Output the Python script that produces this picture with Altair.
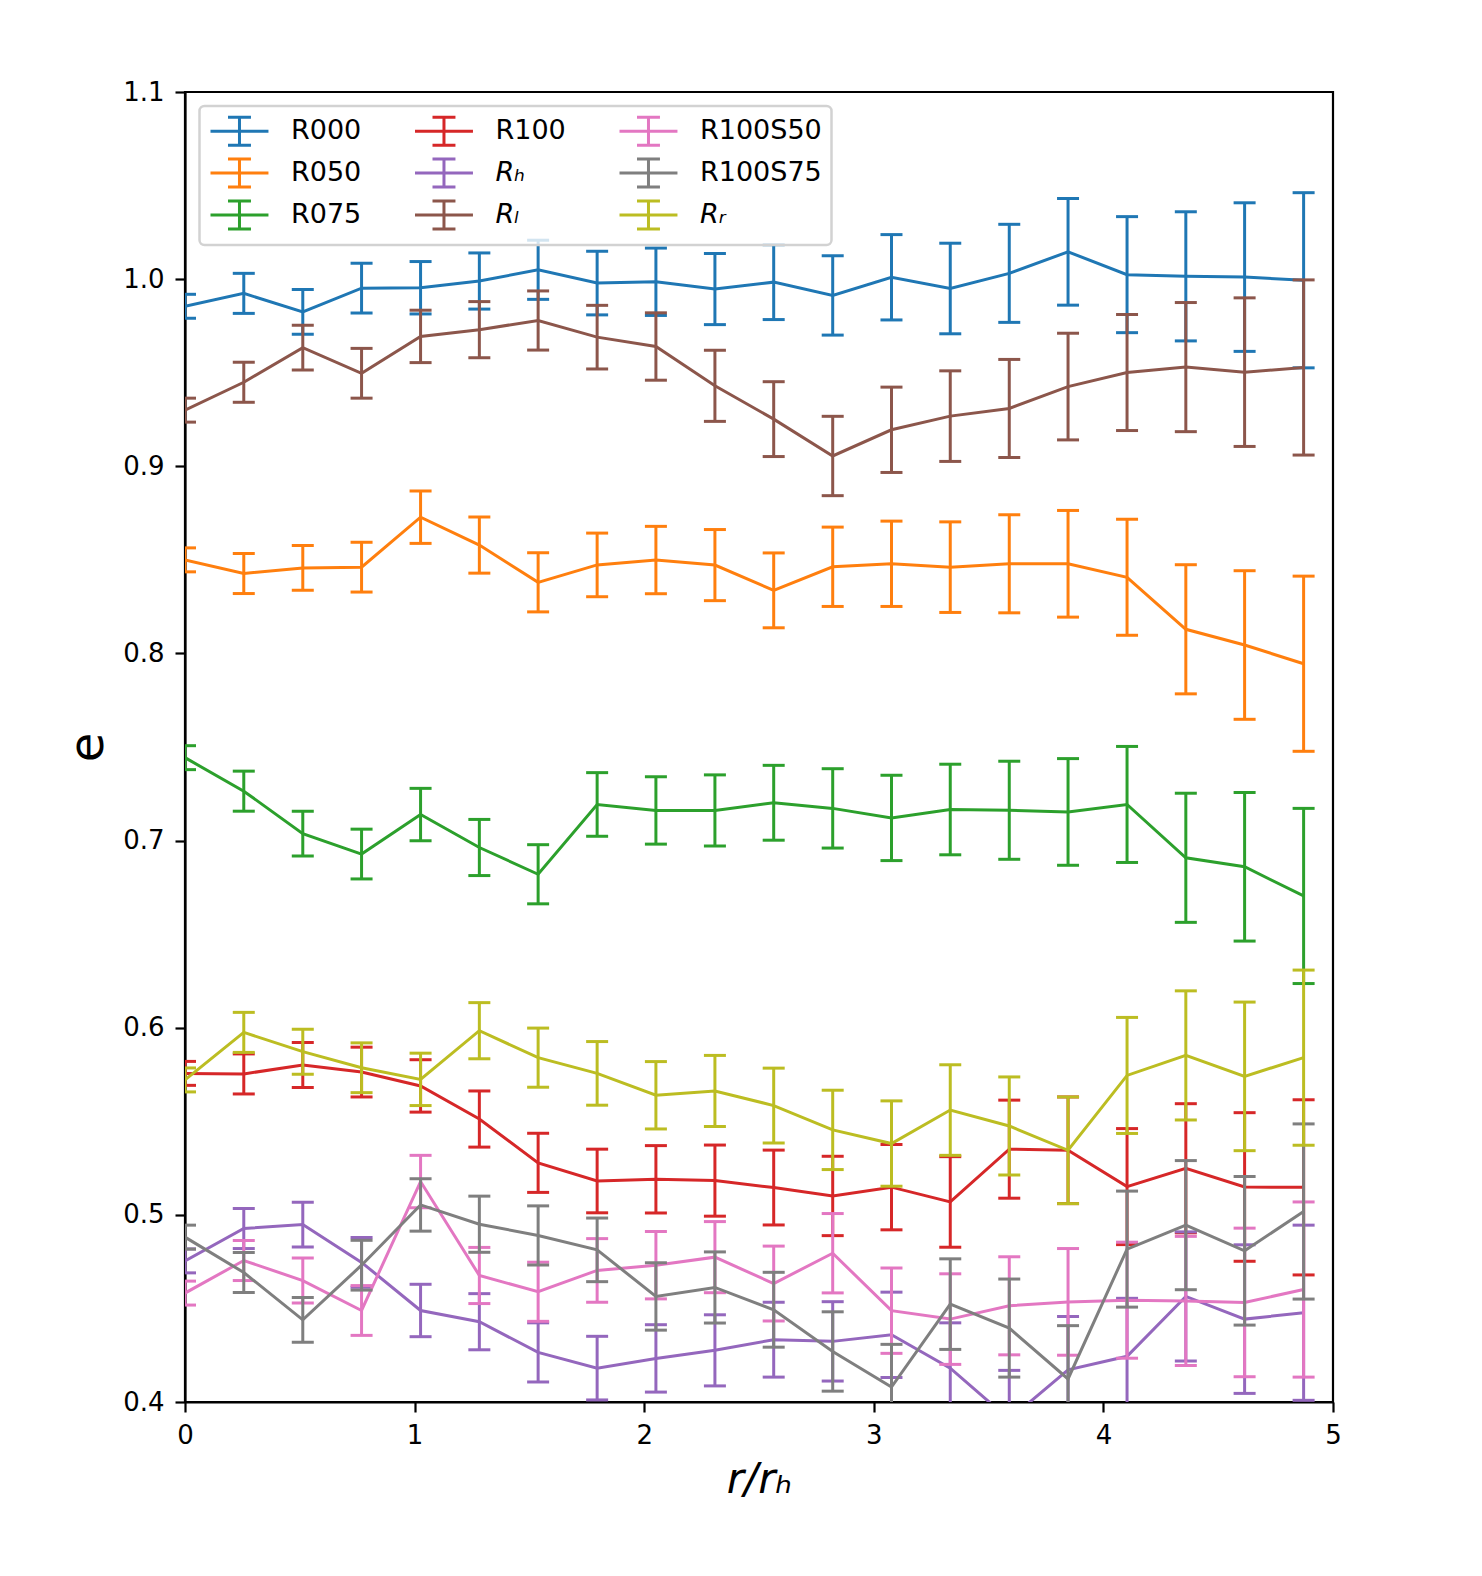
import altair as alt
import pandas as pd

# radial bins r/r_h
x_vals = [0.000, 0.256, 0.513, 0.769, 1.026, 1.282, 1.538, 1.795, 2.051, 2.308,
          2.564, 2.821, 3.077, 3.333, 3.590, 3.846, 4.103, 4.359, 4.615, 4.872]

# error bar half-lengths (same for every run)
err = [0.0064, 0.0107, 0.0120, 0.0133, 0.0140, 0.0150, 0.0158, 0.0170, 0.0180, 0.0190,
       0.0200, 0.0212, 0.0228, 0.0242, 0.0262, 0.0285, 0.0310, 0.0345, 0.0397, 0.0468]

R000 = [0.9855, 0.9924, 0.9825, 0.9952, 0.9954, 0.9990, 1.0050, 0.9979, 0.9986, 0.9947,
        0.9984, 0.9913, 1.0010, 0.9950, 1.0031, 1.0146, 1.0024, 1.0015, 1.0011, 0.9994]
R050 = [0.8500, 0.8427, 0.8457, 0.8461, 0.8728, 0.8579, 0.8380, 0.8473, 0.8499, 0.8472,
        0.8337, 0.8463, 0.8479, 0.8461, 0.8479, 0.8479, 0.8407, 0.8129, 0.8045, 0.7945]
R075 = [0.7443, 0.7264, 0.7037, 0.6928, 0.7139, 0.6963, 0.6820, 0.7193, 0.7161, 0.7161,
        0.7202, 0.7172, 0.7121, 0.7166, 0.7162, 0.7153, 0.7193, 0.6908, 0.6860, 0.6704]
R100 = [0.5756, 0.5753, 0.5801, 0.5763, 0.5689, 0.5512, 0.5278, 0.5181, 0.5190, 0.5183,
        0.5146, 0.5101, 0.5148, 0.5069, 0.5351, 0.5345, 0.5151, 0.5249, 0.5149, 0.5147]
R_h = [0.4754, 0.4927, 0.4948, 0.4746, 0.4489, 0.4429, 0.4265, 0.4181, 0.4233, 0.4276,
       0.4333, 0.4324, 0.4359, 0.4181, 0.3907, 0.4172, 0.4244, 0.4564, 0.4443, 0.4477]
R_l = [0.9300, 0.9449, 0.9634, 0.9497, 0.9694, 0.9730, 0.9779, 0.9690, 0.9640, 0.9430,
       0.9252, 0.9055, 0.9195, 0.9268, 0.9309, 0.9426, 0.9501, 0.9530, 0.9503, 0.9528]
R100S50 = [0.4582, 0.4756, 0.4649, 0.4489, 0.5178, 0.4676, 0.4589, 0.4703, 0.4731, 0.4774,
           0.4633, 0.4795, 0.4488, 0.4443, 0.4514, 0.4535, 0.4544, 0.4540, 0.4532, 0.4601]
R100S75 = [0.4881, 0.4692, 0.4439, 0.4731, 0.5053, 0.4950, 0.4890, 0.4813, 0.4564, 0.4612,
           0.4493, 0.4270, 0.4080, 0.4523, 0.4395, 0.4123, 0.4817, 0.4945, 0.4808, 0.5018]
R_r = [0.5721, 0.5975, 0.5872, 0.5786, 0.5724, 0.5984, 0.5840, 0.5756, 0.5639, 0.5662,
       0.5584, 0.5454, 0.5381, 0.5560, 0.5475, 0.5345, 0.5745, 0.5852, 0.5740, 0.5840]

series_names = ["R000", "R050", "R075", "R100", "R\u2095", "R\u2097",
                "R100S50", "R100S75", "R\u1d63"]
series_values = [R000, R050, R075, R100, R_h, R_l, R100S50, R100S75, R_r]
series_colors = ["#1f77b4", "#ff7f0e", "#2ca02c", "#d62728", "#9467bd",
                 "#8c564b", "#e377c2", "#7f7f7f", "#bcbd22"]

rows = []
for name, vals in zip(series_names, series_values):
    for xv, yv, ev in zip(x_vals, vals, err):
        rows.append({"series": name, "x": xv, "y": yv, "lo": yv - ev, "hi": yv + ev})
df = pd.DataFrame(rows)

LW = 3.0
PATH = "M-1,0H3.14M1.07,-1V1M0.25,-1H1.89M0.25,1H1.89"

color = alt.Color(
    "series:N",
    scale=alt.Scale(domain=series_names, range=series_colors),
    legend=alt.Legend(
        title=None, orient="none", legendX=14.5, legendY=14, columns=3,
        gridAlign="each", symbolType=PATH, symbolSize=784, symbolStrokeWidth=LW,
        labelOffset=51, labelFontSize=27, labelFont="DejaVu Sans", labelColor="black",
        rowPadding=1, columnPadding=46.5, padding=9.5,
        strokeColor="#d2d2d2", fillColor="rgba(255,255,255,0.8)", cornerRadius=5,
        labelFontStyle=alt.ExprRef(expr="length(datum.label) == 2 ? 'italic' : 'normal'"),
    ),
)

xenc = alt.X(
    "x:Q",
    scale=alt.Scale(domain=[0, 5], nice=False, zero=False),
    axis=alt.Axis(values=[0, 1, 2, 3, 4, 5], format="d", title="r/r\u2095",
                  titleFontStyle="italic", titleFontSize=42, titlePadding=11,
                  labelPadding=10, labelFlush=False),
)


def yenc(field):
    return alt.Y(
        field + ":Q",
        scale=alt.Scale(domain=[0.4, 1.1], nice=False, zero=False),
        axis=alt.Axis(values=[0.4, 0.5, 0.6, 0.7, 0.8, 0.9, 1.0, 1.1], format=".1f",
                      title="e", titleFontSize=48, titlePadding=10, labelPadding=11,
                      labelFlush=False),
    )


layers = []
for name in series_names:
    base = alt.Chart(df).transform_filter(alt.datum.series == name)
    rule = base.mark_rule(strokeWidth=LW, clip=True).encode(
        x=xenc, y=yenc("lo"), y2="hi:Q", color=color)
    tlo = base.mark_tick(orient="horizontal", size=22, thickness=LW, opacity=1, clip=True).encode(
        x=xenc, y=yenc("lo"), color=color)
    thi = base.mark_tick(orient="horizontal", size=22, thickness=LW, opacity=1, clip=True).encode(
        x=xenc, y=yenc("hi"), color=color)
    line = base.mark_line(strokeWidth=LW, clip=True).encode(
        x=xenc, y=yenc("y"), color=color)
    layers += [rule, tlo, thi, line]

chart = alt.layer(*layers).properties(
    width=1148, height=1310,
    padding={"left": 177, "top": 84, "right": 130, "bottom": 150},
    autosize=alt.AutoSizeParams(type="none"),
).configure(font="DejaVu Sans").configure_view(
    stroke="black", strokeWidth=2.2
).configure_axis(
    grid=False, domainColor="black", domainWidth=2.2, tickColor="black",
    tickWidth=2.2, tickSize=10, labelFont="DejaVu Sans", labelFontSize=26,
    labelColor="black", titleColor="black", titleFontWeight="normal",
    titleFont="DejaVu Sans",
).configure_legend(strokeWidth=2.5)

chart.save("out.html", embed_options={"renderer": "svg", "actions": False})
